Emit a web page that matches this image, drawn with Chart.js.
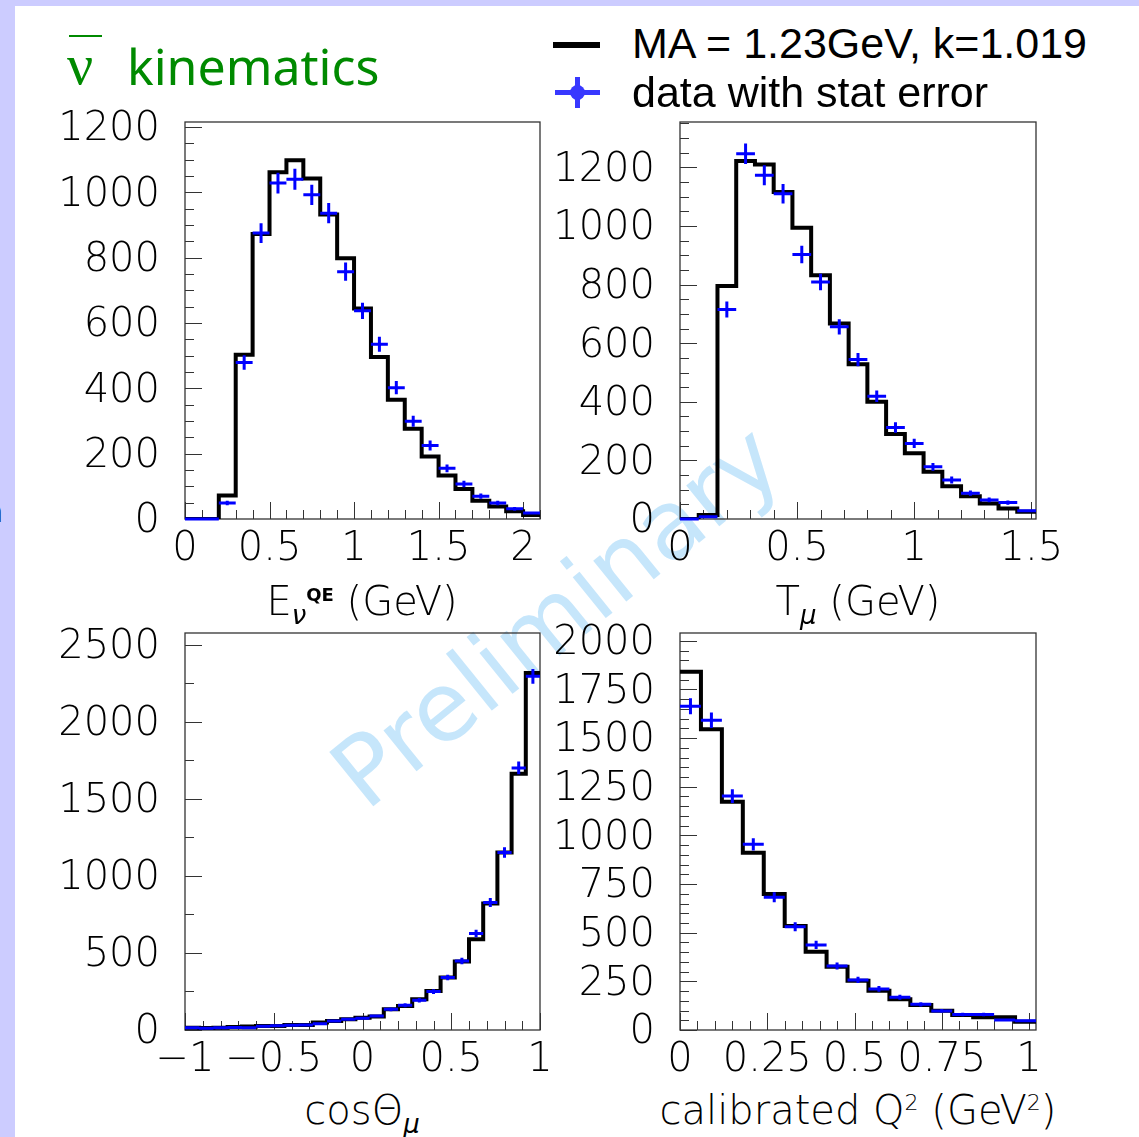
<!DOCTYPE html>
<html>
<head>
<meta charset="utf-8">
<title>anti-nu kinematics</title>
<script src="https://cdn.jsdelivr.net/npm/chart.js@4.4.1/dist/chart.umd.min.js"></script>
<style>
body { margin: 0; width: 1139px; height: 1137px; background: #ccccff; position: relative; overflow: hidden; font-family: "DejaVu Sans", sans-serif; }
#sheet { position: absolute; left: 15px; top: 6px; right: 0; bottom: 0; background: #fff; z-index: 0; }
#watermark { position: absolute; left: 556px; top: 616px; transform: translate(-50%, -50%) rotate(-39deg); font-family: "DejaVu Sans", sans-serif; font-size: 96px; line-height: 1; color: #c6e6fb; white-space: nowrap; z-index: 1; }
canvas { position: absolute; z-index: 2; }
.txt { position: absolute; white-space: nowrap; line-height: 1; z-index: 3; }
.axt { position: absolute; width: 600px; text-align: center; font-size: 40px; font-weight: 300; line-height: 1; white-space: nowrap; z-index: 3; }
.axt sub, .axt sup { line-height: 0; }
.mark { position: absolute; z-index: 3; }
</style>
</head>
<body>
<div id="sheet"></div>
<div id="watermark">Preliminary</div>

<canvas id="enuChart" width="545" height="487" style="left:35px; top:87px"></canvas>
<canvas id="tmuChart" width="546" height="487" style="left:530px; top:87px"></canvas>
<canvas id="cosChart" width="545" height="487" style="left:35px; top:598px"></canvas>
<canvas id="q2Chart" width="546" height="487" style="left:530px; top:598px"></canvas>

<!-- titulo e legenda -->
<div class="mark" style="left:69px; top:35px; width:33px; height:2px; background:#008a00"></div>
<div class="txt" style="left:67px; top:36px; font-family:'Liberation Serif', serif; font-size:58px; color:#008a00">ν</div>
<div class="txt" style="left:127px; top:41px; font-family:'Noto Sans', sans-serif; font-size:50px; color:#008a00">kinematics</div>

<div class="mark" style="left:553px; top:42px; width:47px; height:6px; background:#000"></div>
<div class="txt" style="left:632px; top:22px; font-family:'Liberation Sans', sans-serif; font-size:43px; color:#000">MA = 1.23GeV, k=1.019</div>
<div class="mark" style="left:555px; top:90px; width:45px; height:5px; background:#3838ff"></div>
<div class="mark" style="left:575px; top:77px; width:5px; height:31px; background:#3838ff"></div>
<div class="mark" style="left:570px; top:85px; width:15px; height:15px; border-radius:50%; background:#3838ff"></div>
<div class="txt" style="left:632px; top:71px; font-family:'Liberation Sans', sans-serif; font-size:43px; color:#000">data with stat error</div>

<div class="txt" style="left:-16px; top:497px; font-size:30px; color:#000">n</div>

<!-- titulos dos eixos -->
<div class="axt" style="left:62px; top:581px">E<sub style="font-size:26px; font-style:italic">ν</sub><sup style="font-size:18px; font-weight:bold">QE</sup> (GeV)</div>
<div class="axt" style="left:558px; top:581px">T<sub style="font-size:26px; font-style:italic">μ</sub> (GeV)</div>
<div class="axt" style="left:62px; top:1090px">cosΘ<sub style="font-size:26px; font-style:italic">μ</sub></div>
<div class="axt" style="left:558px; top:1090px">calibrated Q<sup style="font-size:22px">2</sup> (GeV<sup style="font-size:22px">2</sup>)</div>

<script>
// E_nu^QE (GeV)
const enuEdges = [0, 0.1, 0.2, 0.3, 0.4, 0.5, 0.6, 0.7, 0.8, 0.9, 1.0, 1.1, 1.2, 1.3, 1.4, 1.5, 1.6, 1.7, 1.8, 1.9, 2.0, 2.1];
const enuMC = [0, 0, 72, 503, 872, 1061, 1098, 1042, 932, 798, 644, 496, 365, 276, 191, 133, 92, 56, 38, 24, 12];
const enuData = [0, 0, 49, 479, 875, 1028, 1040, 992, 936, 757, 637, 535, 402, 299, 225, 155, 107, 70, 49, 31, 18];
const enuErr = [0, 0, 7, 22, 30, 32, 32, 31, 31, 28, 25, 23, 20, 17, 15, 12, 10, 8, 7, 6, 4];

// T_mu (GeV)
const tmuEdges = [0, 0.08, 0.16, 0.24, 0.32, 0.40, 0.48, 0.56, 0.64, 0.72, 0.80, 0.88, 0.96, 1.04, 1.12, 1.20, 1.28, 1.36, 1.44, 1.52];
const tmuMC = [0, 14, 795, 1222, 1210, 1116, 994, 832, 667, 528, 400, 290, 224, 161, 112, 78, 53, 36, 25];
const tmuData = [0, 8, 715, 1247, 1173, 1110, 903, 809, 656, 544, 419, 312, 258, 178, 133, 88, 65, 56, 28];
const tmuErr = [0, 3, 27, 35, 34, 33, 30, 28, 26, 23, 20, 18, 16, 13, 12, 9, 8, 7, 5];

// cos theta_mu
const cosEdges = [-1, -0.92, -0.84, -0.76, -0.68, -0.60, -0.52, -0.44, -0.36, -0.28, -0.20, -0.12, -0.04, 0.04, 0.12, 0.20, 0.28, 0.36, 0.44, 0.52, 0.60, 0.68, 0.76, 0.84, 0.92, 1];
const cosMC = [15, 13, 15, 20, 22, 26, 26, 32, 32, 48, 58, 69, 80, 87, 134, 156, 199, 253, 340, 444, 589, 821, 1152, 1662, 2316];
const cosData = [14, 12, 14, 16, 15, 24, 27, 31, 33, 41, 58, 69, 76, 91, 134, 160, 193, 249, 340, 448, 626, 827, 1152, 1700, 2294];
const cosErr = [4, 3, 4, 4, 4, 5, 5, 6, 6, 6, 8, 8, 9, 10, 12, 13, 14, 16, 18, 21, 25, 29, 34, 41, 48];

// calibrated Q^2 (GeV^2)
const q2Edges = [0, 0.06, 0.12, 0.18, 0.24, 0.30, 0.36, 0.42, 0.48, 0.54, 0.60, 0.66, 0.72, 0.78, 0.84, 0.90, 0.96, 1.02];
const q2MC = [1841, 1545, 1173, 911, 699, 534, 402, 325, 253, 202, 158, 128, 99, 77, 65, 65, 43];
const q2Data = [1664, 1592, 1202, 954, 682, 531, 437, 329, 257, 211, 168, 132, 98, 80, 80, 51, 48];
const q2Err = [41, 40, 35, 31, 26, 23, 21, 18, 16, 15, 13, 11, 10, 9, 9, 7, 7];

const tickFont = { family: 'DejaVu Sans', size: 40, weight: '300' };

function formatTick(v) {
    const s = String(Math.round(v * 100) / 100);
    return s.replace('-', '\u2212');
}

// so os valores redondos (multiplos do passo) viram rotulos
function marcasPrincipais(scale, step) {
    const out = [];
    for (let i = 0; ; i++) {
        const v = Math.round((scale.min + i * step) * 1000) / 1000;
        if (v > scale.max + 1e-9) break;
        out.push({ value: v });
    }
    scale.ticks = out;
}

// moldura e marcas de escala no estilo ROOT (para dentro)
const rootFrame = {
    id: 'rootFrame',
    beforeDatasetsDraw(chart, args, opts) {
        const { ctx, chartArea: a, scales: { x, y } } = chart;
        ctx.save();
        ctx.strokeStyle = '#333';
        ctx.lineWidth = 1.3;
        ctx.strokeRect(a.left, a.top, a.right - a.left, a.bottom - a.top);

        ctx.beginPath();
        ctx.lineWidth = 1;
        for (let i = 0; ; i++) {
            const v = x.min + i * opts.xMinor;
            if (v > x.max + 1e-9) break;
            const r = v / opts.xMajor;
            const len = Math.abs(r - Math.round(r)) < 1e-6 ? 17 : 9;
            const px = Math.round(x.getPixelForValue(v)) + 0.5;
            ctx.moveTo(px, a.bottom);
            ctx.lineTo(px, a.bottom - len);
        }
        for (let i = 0; ; i++) {
            const v = y.min + i * opts.yMinor;
            if (v > y.max + 1e-9) break;
            const r = v / opts.yMajor;
            const len = Math.abs(r - Math.round(r)) < 1e-6 ? 17 : 9;
            const py = Math.round(y.getPixelForValue(v)) + 0.5;
            ctx.moveTo(a.left, py);
            ctx.lineTo(a.left + len, py);
        }
        ctx.stroke();
        ctx.restore();
    }
};

// cruzes de erro dos dados
const errorCrosses = {
    id: 'errorCrosses',
    afterDatasetsDraw(chart) {
        const { ctx, scales: { x, y } } = chart;
        const ds = chart.data.datasets[1];
        ctx.save();
        ctx.strokeStyle = '#0000ff';
        ctx.lineWidth = 3;
        ctx.beginPath();
        ds.data.forEach(p => {
            const cx = x.getPixelForValue(p.x);
            const cy = y.getPixelForValue(p.y);
            ctx.moveTo(x.getPixelForValue(p.x - p.xErr), cy);
            ctx.lineTo(x.getPixelForValue(p.x + p.xErr), cy);
            if (p.yErr > 0) {
                ctx.moveTo(cx, y.getPixelForValue(p.y - p.yErr));
                ctx.lineTo(cx, y.getPixelForValue(p.y + p.yErr));
            }
        });
        ctx.stroke();
        ctx.restore();
    }
};

function criarPainel(id, edges, mc, data, err, ax) {
    // pontos do histograma (degrau) e pontos dos dados
    const steps = edges.map((e, i) => ({ x: e, y: mc[Math.min(i, mc.length - 1)] }));
    const points = data.map((v, i) => ({
        x: (edges[i] + edges[i + 1]) / 2,
        y: v,
        xErr: (edges[i + 1] - edges[i]) / 2,
        yErr: err[i]
    }));

    return new Chart(document.getElementById(id), {
        type: 'line',
        data: {
            datasets: [{
                label: 'MA = 1.23GeV, k=1.019',
                data: steps,
                stepped: true,
                borderColor: '#000',
                borderWidth: 4,
                borderJoinStyle: 'miter',
                pointRadius: 0,
                fill: false
            }, {
                label: 'data with stat error',
                data: points,
                showLine: false,
                pointRadius: 0,
                borderColor: '#0000ff'
            }]
        },
        options: {
            responsive: false,
            animation: false,
            devicePixelRatio: 1,
            layout: { padding: { left: 0, top: 35, right: 40, bottom: 0 } },
            plugins: {
                legend: { display: false },
                tooltip: { enabled: false },
                rootFrame: ax
            },
            scales: {
                x: {
                    type: 'linear',
                    min: ax.xMin,
                    max: ax.xMax,
                    grid: { display: false, drawTicks: false },
                    border: { display: false },
                    ticks: {
                        autoSkip: false,
                        maxRotation: 0,
                        minRotation: 0,
                        padding: 7,
                        color: '#000',
                        font: tickFont,
                        callback: v => formatTick(v)
                    },
                    afterBuildTicks: s => marcasPrincipais(s, ax.xMajor),
                    afterFit: s => {
                        s.height = 55;
                        s.paddingLeft = 0;
                        s.paddingRight = 0;
                    }
                },
                y: {
                    min: 0,
                    max: ax.yMax,
                    grid: { display: false, drawTicks: false },
                    border: { display: false },
                    ticks: {
                        autoSkip: false,
                        padding: 25,
                        labelOffset: 3,
                        color: '#000',
                        font: tickFont,
                        callback: v => formatTick(v)
                    },
                    afterBuildTicks: s => marcasPrincipais(s, ax.yMajor),
                    afterFit: s => {
                        s.width = 150;
                        s.paddingTop = 0;
                        s.paddingBottom = 0;
                    }
                }
            }
        },
        plugins: [rootFrame, errorCrosses]
    });
}

criarPainel('enuChart', enuEdges, enuMC, enuData, enuErr,
    { xMin: 0, xMax: 2.1, xMajor: 0.5, xMinor: 0.1, yMax: 1215, yMajor: 200, yMinor: 50 });
criarPainel('tmuChart', tmuEdges, tmuMC, tmuData, tmuErr,
    { xMin: 0, xMax: 1.52, xMajor: 0.5, xMinor: 0.1, yMax: 1355, yMajor: 200, yMinor: 50 });
criarPainel('cosChart', cosEdges, cosMC, cosData, cosErr,
    { xMin: -1, xMax: 1, xMajor: 0.5, xMinor: 0.1, yMax: 2575, yMajor: 500, yMinor: 250 });
criarPainel('q2Chart', q2Edges, q2MC, q2Data, q2Err,
    { xMin: 0, xMax: 1.02, xMajor: 0.25, xMinor: 0.05, yMax: 2040, yMajor: 250, yMinor: 50 });
</script>
</body>
</html>
